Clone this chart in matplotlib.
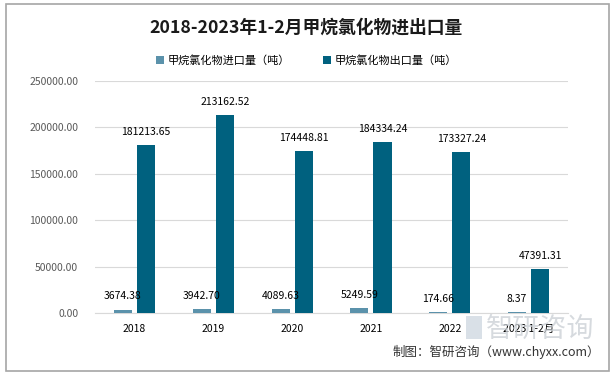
import matplotlib.pyplot as plt
import numpy as np
from matplotlib.patches import Rectangle

plt.rcParams['font.family'] = ['Noto Sans CJK SC', 'DejaVu Sans']

# 数据
categories = ['2018', '2019', '2020', '2021', '2022', '2023 1-2月']
import_vals = [3674.38, 3942.70, 4089.63, 5249.59, 174.66, 8.37]
export_vals = [181213.65, 213162.52, 174448.81, 184334.24, 173327.24, 47391.31]
yticks = [0, 50000, 100000, 150000, 200000, 250000]

c_imp = '#5B92AB'
c_exp = '#00617F'

fig = plt.figure(figsize=(6.13, 3.79), dpi=100)
ax = fig.add_axes([0.155, 0.174, 0.7716, 0.6123])

x = np.arange(len(categories))
w = 0.23
b1 = ax.bar(x - 0.146, import_vals, w, color=c_imp, label='甲烷氯化物进口量（吨）', zorder=3)
b2 = ax.bar(x + 0.146, export_vals, w, color=c_exp, label='甲烷氯化物出口量（吨）', zorder=3)

# 很小的进口量也画出一条细线
for r in b1:
    r.set_height(max(r.get_height(), 1200))

for bars, vals in [(b1, import_vals), (b2, export_vals)]:
    for r, v in zip(bars, vals):
        ax.annotate('%.2f' % v, (r.get_x() + r.get_width() / 2, r.get_height()),
                    xytext=(0, 6), textcoords='offset points',
                    ha='center', va='bottom', fontsize=7.5, color='black', zorder=5)

ax.set_xlim(-0.5, len(categories) - 0.5)
ax.set_ylim(0, 250000)
ax.set_yticks(yticks)
ax.set_yticklabels(['%.2f' % t for t in yticks], fontsize=7.5, color='#595959')
ax.set_xticks(x)
ax.set_xticklabels(categories, fontsize=7.5, color='black')
ax.tick_params(length=0, pad=8)
ax.tick_params(axis='y', pad=12)
ax.grid(axis='y', color='#d9d9d9', linewidth=0.8, zorder=0)
for s in ['top', 'right', 'left']:
    ax.spines[s].set_visible(False)
ax.spines['bottom'].set_color('#d9d9d9')

fig.text(0.5, 0.928, '2018-2023年1-2月甲烷氯化物进出口量', ha='center', va='center',
         fontsize=12.8, fontweight='bold', color='#1a1a1a')
fig.legend(loc='center', bbox_to_anchor=(0.5, 0.84), ncol=2, frameon=False,
           fontsize=8, handlelength=0.7, handleheight=0.7, columnspacing=3.0,
           handletextpad=0.3)

# 水印
fig.text(0.793, 0.132, '智研咨询', ha='left', va='center', fontsize=19.5,
         color='#c9ced4', alpha=0.75, zorder=0)
fig.patches.append(Rectangle((0.76, 0.105), 0.026, 0.06, transform=fig.transFigure,
                             facecolor='#c9d3dd', alpha=0.7, edgecolor='none', zorder=0))

fig.text(0.979, 0.071, '制图：智研咨询（www.chyxx.com）', ha='right', va='center',
         fontsize=9, color='#333333')

# 外框
fig.patches.append(Rectangle((0.009, 0.021), 0.985, 0.968, transform=fig.transFigure,
                             facecolor='none', edgecolor='#a6a6a6', linewidth=1.2))

fig.savefig('out.png', dpi=100)
